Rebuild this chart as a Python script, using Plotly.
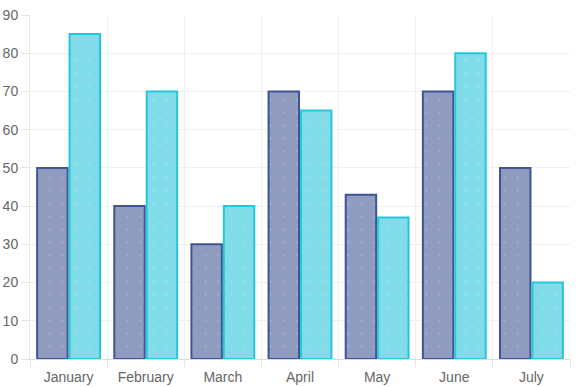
import plotly.graph_objects as go

months = ["January", "February", "March", "April", "May", "June", "July"]
series_a = [50, 40, 30, 70, 43, 70, 50]
series_b = [85, 70, 40, 65, 37, 80, 20]

fig = go.Figure()
fig.add_trace(go.Bar(
    x=months, y=series_a, name="Dataset 1",
    marker=dict(color="#8f9cc0", line=dict(color="#3e5494", width=2),
                pattern=dict(shape=".", fgcolor="white", fgopacity=0.15, size=13, solidity=0.03)),
))
fig.add_trace(go.Bar(
    x=months, y=series_b, name="Dataset 2",
    marker=dict(color="#80dce9", line=dict(color="#26c6da", width=2),
                pattern=dict(shape=".", fgcolor="white", fgopacity=0.15, size=13, solidity=0.03)),
))

fig.update_layout(
    width=587, height=387,
    margin=dict(l=30, r=17, t=15, b=28, autoexpand=False),
    paper_bgcolor="white", plot_bgcolor="white",
    showlegend=False,
    barmode="group", bargap=0.16, bargroupgap=0.06,
    font=dict(family="Arial, Liberation Sans, sans-serif", size=14, color="#666"),
)
fig.update_xaxes(
    type="category", tickson="boundaries", range=[-0.5, 6.5],
    showgrid=True, gridcolor="#efefef", gridwidth=1,
    ticks="outside", ticklen=7, tickcolor="#e6e6e6",
    showline=True, linecolor="#dcdcdc", linewidth=1,
    zeroline=False, fixedrange=True, automargin=False,
    ticklabelstandoff=5,
)
fig.update_yaxes(
    range=[0, 90], dtick=10, tick0=0,
    showgrid=True, gridcolor="#efefef", gridwidth=1,
    ticks="outside", ticklen=8, tickcolor="#e6e6e6",
    showline=True, linecolor="#e6e6e6", linewidth=1,
    zeroline=False, fixedrange=True, automargin=False,
)

fig.write_html("out.html", config={"displayModeBar": False},
               post_script="document.body.style.margin='0';document.body.style.overflow='hidden';")
